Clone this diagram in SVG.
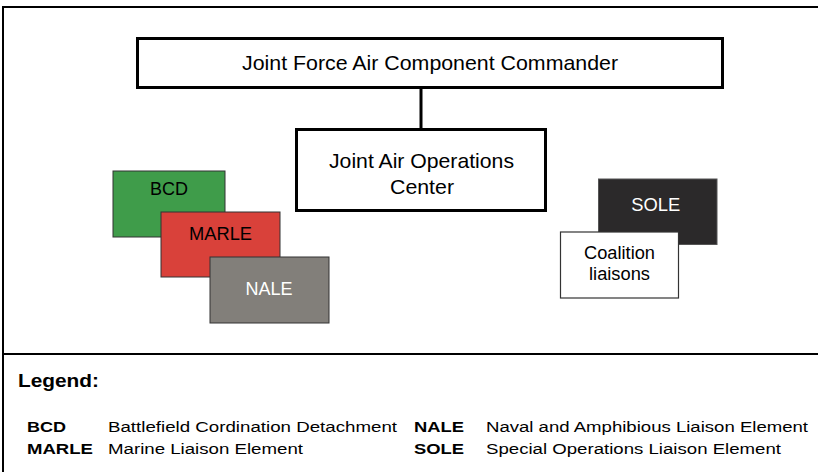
<svg xmlns="http://www.w3.org/2000/svg" width="818" height="472" viewBox="0 0 818 472">
<style>
text{font-family:"Liberation Sans",Arial,sans-serif;}
.main{fill:#fff;stroke:#000;stroke-width:3;}
.lbl{font-size:21px;fill:#000;text-anchor:middle;}
.sm{font-size:17.5px;text-anchor:middle;}
.frame{fill:none;stroke:#000;stroke-width:2;}
.lg{font-size:15.5px;fill:#000;}
.lgb{font-size:15.5px;font-weight:bold;fill:#000;}
</style>
<rect x="0" y="0" width="818" height="472" fill="#fff"/>
<g id="frame">
<path class="frame" d="M3,472 V7 H818"/>
<line class="frame" x1="3" y1="354" x2="818" y2="354"/>
</g>
<g id="connectors">
<line x1="421" y1="88" x2="421" y2="129" stroke="#000" stroke-width="3"/>
</g>
<g id="jfacc">
<rect class="main" x="137.5" y="38.5" width="585" height="49"/>
<text class="lbl" x="430" y="70" textLength="376" lengthAdjust="spacingAndGlyphs">Joint Force Air Component Commander</text>
</g>
<g id="jaoc">
<rect class="main" x="296.5" y="129.5" width="249" height="81"/>
<text class="lbl" x="421.5" y="167.5" textLength="185" lengthAdjust="spacingAndGlyphs">Joint Air Operations</text>
<text class="lbl" x="422" y="193.5" textLength="64" lengthAdjust="spacingAndGlyphs">Center</text>
</g>
<g id="bcd">
<rect x="113" y="171" width="112" height="66" fill="#3f9c4a" stroke="#333" stroke-width="1"/>
<text class="sm" x="169" y="195" fill="#000" textLength="38" lengthAdjust="spacingAndGlyphs">BCD</text>
</g>
<g id="marle">
<rect x="161" y="212" width="119" height="65" fill="#d9413a" stroke="#333" stroke-width="1"/>
<text class="sm" x="220.5" y="240" fill="#000" textLength="63" lengthAdjust="spacingAndGlyphs">MARLE</text>
</g>
<g id="nale">
<rect x="210" y="257" width="119" height="66" fill="#827f7a" stroke="#333" stroke-width="1"/>
<text class="sm" x="269" y="295" fill="#fff" textLength="47" lengthAdjust="spacingAndGlyphs">NALE</text>
</g>
<g id="sole">
<rect x="598.5" y="179" width="118.5" height="65.5" fill="#2b292a" stroke="#555" stroke-width="1"/>
<text class="sm" x="655.7" y="210.5" fill="#fff" textLength="49" lengthAdjust="spacingAndGlyphs">SOLE</text>
</g>
<g id="coalition">
<rect x="560.5" y="232" width="118" height="66" fill="#fff" stroke="#333" stroke-width="1.2"/>
<text class="sm" x="619.5" y="258.5" fill="#000" textLength="71" lengthAdjust="spacingAndGlyphs">Coalition</text>
<text class="sm" x="619.5" y="280" fill="#000" textLength="61" lengthAdjust="spacingAndGlyphs">liaisons</text>
</g>
<g id="legend">
<text x="18" y="387" style="font-size:18px;font-weight:bold;" textLength="81" lengthAdjust="spacingAndGlyphs">Legend:</text>
<text class="lgb" x="27" y="432" textLength="39" lengthAdjust="spacingAndGlyphs">BCD</text>
<text class="lg" x="108" y="432" textLength="289" lengthAdjust="spacingAndGlyphs">Battlefield Cordination Detachment</text>
<text class="lgb" x="27" y="454" textLength="66" lengthAdjust="spacingAndGlyphs">MARLE</text>
<text class="lg" x="108" y="454" textLength="195" lengthAdjust="spacingAndGlyphs">Marine Liaison Element</text>
<text class="lgb" x="414" y="432" textLength="50" lengthAdjust="spacingAndGlyphs">NALE</text>
<text class="lg" x="486" y="432" textLength="322" lengthAdjust="spacingAndGlyphs">Naval and Amphibious Liaison Element</text>
<text class="lgb" x="414" y="454" textLength="50" lengthAdjust="spacingAndGlyphs">SOLE</text>
<text class="lg" x="486" y="454" textLength="295" lengthAdjust="spacingAndGlyphs">Special Operations Liaison Element</text>
</g>
</svg>
